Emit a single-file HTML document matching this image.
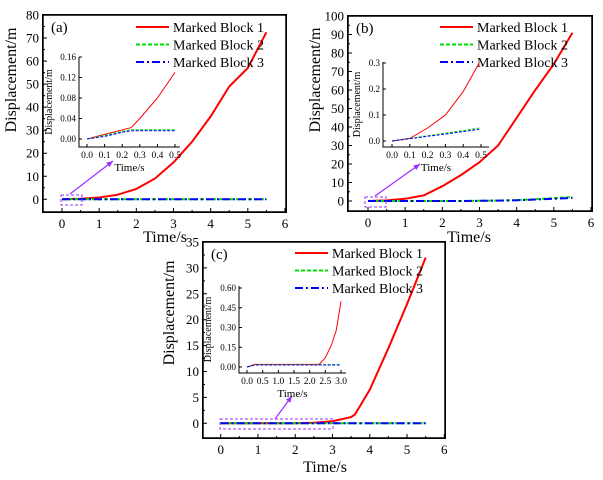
<!DOCTYPE html>
<html><head><meta charset="utf-8"><style>
body{margin:0;background:#fff;}
#wrap{position:relative;width:603px;height:480px;overflow:hidden;}
svg{display:block;position:absolute;left:0;top:0;}
.frame{position:absolute;border:1.5px solid #000;box-sizing:border-box;}
text{font-family:"Liberation Serif",serif;font-weight:normal;}
</style></head><body>
<div id="wrap">
<div class="frame" style="left:42px;top:14px;width:245px;height:199px;"></div>
<div class="frame" style="left:347px;top:15px;width:246px;height:197px;"></div>
<div class="frame" style="left:202px;top:241px;width:244px;height:198px;"></div>
<svg id="chart" width="603" height="480" viewBox="0 0 603 480" xmlns="http://www.w3.org/2000/svg" font-family="Liberation Serif, serif">
<rect x="43" y="15" width="243" height="197" fill="none" stroke="#000" stroke-width="1.5"/>
<rect x="348" y="16" width="244" height="195" fill="none" stroke="#000" stroke-width="1.5"/>
<rect x="203" y="242" width="242" height="196" fill="none" stroke="#000" stroke-width="1.5"/>
</svg>
</div>
<script>
// Panel (a) data
const aTime = [0,0.5,1,1.5,2,2.5,3,3.5,4,4.5,5,5.5];
const aBlock1 = [0,0.2,0.8,2,4.5,9,16,25,36,49,57,72.5];
const aBlock2 = [0,0.02,0.02,0.02,0.02,0.02,0.02,0.02,0.02,0.02,0.02,0.02];
const aBlock3 = [0,0.02,0.02,0.02,0.02,0.02,0.02,0.02,0.02,0.02,0.02,0.02];
const aInsetTime = [0,0.1,0.2,0.25,0.3,0.4,0.5];
const aInset1 = [0,0.009,0.018,0.022,0.04,0.08,0.13];
const aInset2 = [0,0.007,0.015,0.018,0.018,0.018,0.018];
const aInset3 = [0,0.005,0.013,0.016,0.016,0.016,0.016];
// Panel (b) data
const bTime = [0,0.5,1,1.5,2,2.5,3,3.5,4,4.5,5,5.5];
const bBlock1 = [0,0.3,1.2,3,8,14,21,30,45,60,74,91];
const bBlock2 = [0,0,0,0,0,0,0.1,0.2,0.5,1,1.5,2.2];
const bBlock3 = [0,0,0,0,0,0,0.1,0.2,0.4,0.8,1.2,1.7];
const bInsetTime = [0,0.1,0.2,0.3,0.4,0.49];
const bInset1 = [0,0.01,0.05,0.1,0.19,0.3];
const bInset2 = [0,0.01,0.02,0.03,0.04,0.05];
const bInset3 = [0,0.009,0.018,0.027,0.036,0.045];
// Panel (c) data
const cTime = [0,1,2,2.5,3,3.5,3.6,4,4.5,5,5.5];
const cBlock1 = [0,0,0,0.1,0.4,1.2,1.7,6.5,14.5,23,32];
const cBlock2 = [0,0.02,0.02,0.02,0.02,0.02,0.02,0.02,0.02,0.02,0.02];
const cBlock3 = [0,0.02,0.02,0.02,0.02,0.02,0.02,0.02,0.02,0.02,0.02];
const cInsetTime = [0,0.25,1,2,2.3,2.5,2.7,2.85,3.0];
const cInset1 = [0,0.02,0.02,0.02,0.02,0.07,0.17,0.28,0.5];
const cInset2 = [0,0.018,0.018,0.018,0.018,0.018,0.018,0.018,0.018];
const cInset3 = [0,0.015,0.015,0.015,0.015,0.015,0.015,0.015,0.015];
// Tick labels
const xTicksMain = [0,1,2,3,4,5,6];
const aYTicks = [0,10,20,30,40,50,60,70,80];
const bYTicks = [0,10,20,30,40,50,60,70,80,90,100];
const cYTicks = [0,5,10,15,20,25,30,35];
const aInsetYTicks = ["0.00","0.04","0.08","0.12","0.16"];
const bInsetYTicks = ["0.0","0.1","0.2","0.3"];
const cInsetYTicks = ["0.00","0.15","0.30","0.45","0.60"];
const abInsetXTicks = ["0.0","0.1","0.2","0.3","0.4","0.5"];
const cInsetXTicks = ["0.0","0.5","1.0","1.5","2.0","2.5","3.0"];
const legendLabels = ["Marked Block 1","Marked Block 2","Marked Block 3"];

const NS="http://www.w3.org/2000/svg";
const svg=document.getElementById('chart');
function mk(tag,attrs,parent){const e=document.createElementNS(NS,tag);for(const k in attrs)e.setAttribute(k,attrs[k]);if(tag==='text'){e.setAttribute('font-family','Liberation Serif, serif');}(parent||svg).appendChild(e);return e;}
const styles=[{stroke:"#ff0000",dash:""},{stroke:"#00e000",dash:"4,2"},{stroke:"#0000ff",dash:"8,3,2,3"}];

function scale(d0,d1,p0,p1){return v=>p0+(v-d0)*(p1-p0)/(d1-d0);}
function path(xs,ys,sx,sy){return xs.map((t,i)=>(i?"L":"M")+sx(t).toFixed(1)+","+sy(ys[i]).toFixed(1)).join("");}

function panel(o){
  const g=mk('g',{});
  
  
  const sx=scale(0,6,o.x0,o.x6), sy=scale(0,o.yTop,o.y0,o.yTopPx);
  let tk="";
  xTicksMain.forEach(v=>{const x=sx(v);tk+=`M${x},${o.B}v-4`;
    if(v<6){tk+=`M${sx(v+0.5)},${o.B}v-2`;}
    const t=mk('text',{x:x,y:o.B+16,"text-anchor":"middle","font-size":13},g);t.textContent=v;
    });
  o.yTicks.forEach((v,i)=>{const y=sy(v);tk+=`M${o.L},${y}h4`;
    if(i<o.yTicks.length-1){tk+=`M${o.L},${sy((v+o.yTicks[i+1])/2)}h2`;}
    const t=mk('text',{x:o.L-4,y:y+4.5,"text-anchor":"end","font-size":13},g);t.textContent=v;
    });
  const tp=mk('path',{d:tk,stroke:"#000000","stroke-width":1,fill:"none"},g);
  
  const yl=mk('text',{transform:`translate(${o.ylx},${o.yly}) rotate(-90)`,"text-anchor":"middle","font-size":16},g);yl.textContent="Displacement/m";
  
  const xl=mk('text',{x:o.xlx,y:o.xly,"text-anchor":"middle","font-size":16},g);xl.textContent="Time/s";
  
  const pl=mk('text',{x:o.L+8,y:o.T+17,"font-size":15},g);pl.textContent=o.label;
  
  o.series.forEach((s,i)=>{const p=mk('path',{d:path(o.time,s,sx,sy),fill:"none",stroke:styles[i].stroke,"stroke-width":2,"stroke-dasharray":styles[i].dash},g);
    });
  legendLabels.forEach((lab,i)=>{const y=o.legY+i*17.5;
    const l=mk('path',{d:`M${o.legX},${y}h33`,stroke:styles[i].stroke,"stroke-width":2,"stroke-dasharray":styles[i].dash,fill:"none"},g);
    
    const t=mk('text',{x:o.legX+37,y:y+5,"font-size":14},g);t.textContent=lab;
    });
  const zb=mk('path',{d:`M${o.zb[0]},${o.zb[1]}H${o.zb[2]}V${o.zb[3]}H${o.zb[0]}Z`,fill:"none",stroke:"#9b30ff","stroke-dasharray":"3,2","stroke-width":1},g);
  
  const ar=mk('path',{d:`M${o.ar[0]},${o.ar[1]}L${o.ar[2]},${o.ar[3]}`,stroke:"#9b30ff","stroke-width":1.2,fill:"none"},g);
  
  const ang=Math.atan2(o.ar[3]-o.ar[1],o.ar[2]-o.ar[0]);const hx=o.ar[2],hy=o.ar[3];
  const ah=mk('polygon',{points:`${hx},${hy} ${hx-7*Math.cos(ang-0.4)},${hy-7*Math.sin(ang-0.4)} ${hx-7*Math.cos(ang+0.4)},${hy-7*Math.sin(ang+0.4)}`,fill:"#9b30ff"},g);
  
  const I=o.inset;const ig=mk('g',{},g);
  
  const n=I.xt.length-1, m=I.yt.length-1;
  const ix=scale(0,I.xMax,I.x0,I.x1), iy=scale(0,I.yMax,I.y0,I.y1);
  let itk=`M${I.L},${I.T}V${I.B}H${I.R}`;
  I.xt.forEach((lab,i)=>{const x=I.x0+(I.x1-I.x0)*i/n;itk+=`M${x},${I.B}v-3`;
    const t=mk('text',{x:x,y:I.B+11,"text-anchor":"middle","font-size":9.5},ig);t.textContent=lab;
    });
  I.yt.forEach((lab,i)=>{const y=I.y0+(I.y1-I.y0)*i/m;itk+=`M${I.L},${y}h3`;
    const t=mk('text',{x:I.L-3,y:y+3,"text-anchor":"end","font-size":9},ig);t.textContent=lab;
    });
  const iax=mk('path',{d:itk,stroke:"#000000","stroke-width":1,fill:"none"},ig);
  
  const it=mk('text',{x:(I.L+I.R)/2,y:I.B+24,"text-anchor":"middle","font-size":11},ig);it.textContent="Time/s";
  
  const iyl=mk('text',{transform:`translate(${I.L-I.ylo},${(I.T+I.B)/2}) rotate(-90)`,"text-anchor":"middle","font-size":10},ig);iyl.textContent="Displacement/m";
  
  I.series.forEach((s,i)=>{const p=mk('path',{d:path(I.time,s,ix,iy),fill:"none",stroke:styles[i].stroke,"stroke-width":1,"stroke-dasharray":styles[i].dash?"3,1.5":""},ig);
    });
}

panel({name:'panel-a',label:'(a)',L:43,R:286,T:15,B:212,x0:62,x6:285,y0:199.3,yTop:80,yTopPx:15,yTicks:aYTicks,
  time:aTime,series:[aBlock1,aBlock2,aBlock3],ylx:16,yly:80,xlx:165,xly:242,legX:136,legY:27,
  zb:[61,195,82,205],ar:[70,194,113,161],
  inset:{L:79,R:180,T:57,B:147,x0:87,x1:175,y0:139,y1:57,xMax:0.5,yMax:0.16,xt:abInsetXTicks,yt:aInsetYTicks,ylo:27,
    time:aInsetTime,series:[aInset1,aInset2,aInset3]}});
panel({name:'panel-b',label:'(b)',L:348,R:592,T:16,B:211,x0:368,x6:591,y0:201,yTop:100,yTopPx:16,yTicks:bYTicks,
  time:bTime,series:[bBlock1,bBlock2,bBlock3],ylx:320,yly:80,xlx:469,xly:242,legX:440,legY:27,
  zb:[365,197,386,207],ar:[375,196,420,164],
  inset:{L:383,R:489,T:62,B:147,x0:392,x1:481,y0:141,y1:63,xMax:0.5,yMax:0.3,xt:abInsetXTicks,yt:bInsetYTicks,ylo:23,
    time:bInsetTime,series:[bInset1,bInset2,bInset3]}});
panel({name:'panel-c',label:'(c)',L:203,R:445,T:242,B:438,x0:220.7,x6:444.3,y0:423.3,yTop:35,yTopPx:242,yTicks:cYTicks,
  time:cTime,series:[cBlock1,cBlock2,cBlock3],ylx:174,yly:313,xlx:325,xly:472,legX:295,legY:253,
  zb:[220,419,333,429],ar:[275,419,292,396],
  inset:{L:239,R:346,T:286,B:373,x0:247,x1:341,y0:367,y1:288,xMax:3.0,yMax:0.6,xt:cInsetXTicks,yt:cInsetYTicks,ylo:28,
    time:cInsetTime,series:[cInset1,cInset2,cInset3]}});
</script>
</body></html>
